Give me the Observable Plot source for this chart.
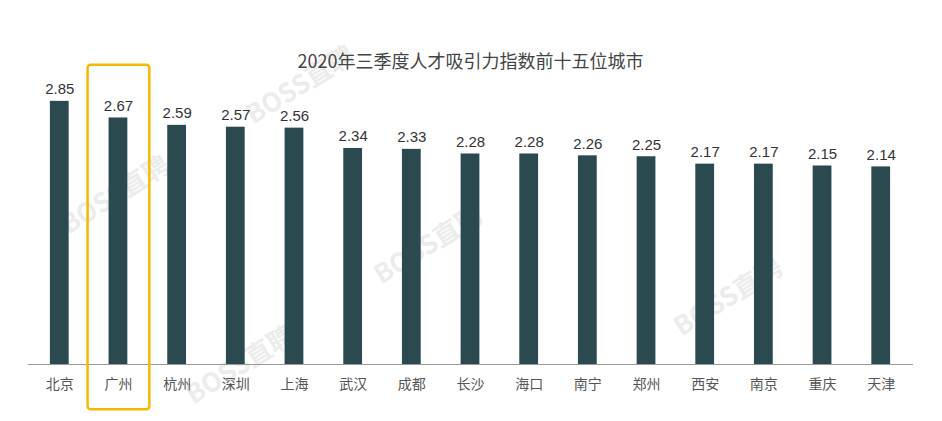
<!DOCTYPE html>
<html>
<head>
<meta charset="utf-8">
<script src="https://cdn.jsdelivr.net/npm/d3@7"></script>
<script src="https://cdn.jsdelivr.net/npm/@observablehq/plot@0.6"></script>
<style>
  html, body { margin: 0; padding: 0; background: #fff; }
  #chart svg { display: block; }
</style>
</head>
<body>
<div id="chart"></div>
<script>
const title = "2020年三季度人才吸引力指数前十五位城市";
const cities = ["北京", "广州", "杭州", "深圳", "上海", "武汉", "成都", "长沙", "海口", "南宁", "郑州", "西安", "南京", "重庆", "天津"];
const values = [2.85, 2.67, 2.59, 2.57, 2.56, 2.34, 2.33, 2.28, 2.28, 2.26, 2.25, 2.17, 2.17, 2.15, 2.14];
const highlighted = ["广州"];
const watermark = "BOSS直聘";

const data = cities.map((c, i) => ({city: c, value: values[i]}));

const font = "'Noto Sans CJK SC', 'Noto Sans', sans-serif";
const numFont = "'Liberation Sans', 'DejaVu Sans', sans-serif";

const wmStyle = {fontSize: 26, fontWeight: "bold", fill: "#ececec", rotate: -32, fontFamily: font, frameAnchor: "top-left", textAnchor: "middle", lineAnchor: "middle"};

const plot = Plot.plot({
  width: 942,
  height: 421,
  marginLeft: 10,
  marginRight: 12,
  marginTop: 87,
  marginBottom: 57,
  style: {fontFamily: font, background: "#fff"},
  x: {domain: cities, padding: 0.68, round: false, label: null, tickSize: 0, tickPadding: 15},
  y: {domain: [0, 3], axis: null},
  marks: [
    // watermark
    Plot.text([watermark], {...wmStyle, dx: 105, dy: 108}),
    Plot.text([watermark], {...wmStyle, dx: 290, dy: -2}),
    Plot.text([watermark], {...wmStyle, dx: 230, dy: 278}),
    Plot.text([watermark], {...wmStyle, dx: 418, dy: 158}),
    Plot.text([watermark], {...wmStyle, dx: 718, dy: 210}),
    // title
    Plot.text([title], {frameAnchor: "top", dy: -25, lineAnchor: "middle", fontSize: 18, fill: "#444"}),
    Plot.barY(data, {x: "city", y: "value", fill: "#2b4a50"}),
    Plot.ruleY([0], {stroke: "#9a9a9a", strokeWidth: 1.2, insetLeft: 18, insetRight: 17}),
    Plot.text(data, {x: "city", y: "value", text: d => d.value.toFixed(2), dy: -7, lineAnchor: "bottom", fontSize: 15, fill: "#333", fontFamily: numFont}),
    Plot.barY(highlighted, {x: d => d, y1: 3.24, y2: -0.49, insetLeft: -21, insetRight: -22, rx: 3, fill: "none", stroke: "#f7b900", strokeWidth: 2.5}),
    Plot.axisX({tickSize: 0, tickPadding: 15, fontSize: 14, color: "#555", label: null})
  ]
});
document.getElementById("chart").appendChild(plot);
</script>
</body>
</html>
